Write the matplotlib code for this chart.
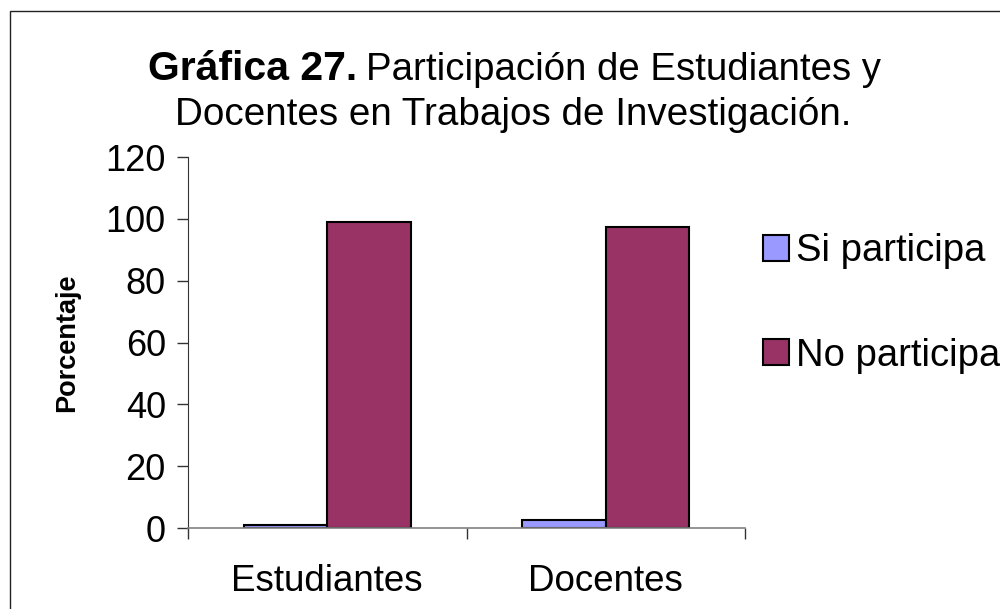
import matplotlib.pyplot as plt
import matplotlib.patches as mpatches
import numpy as np

plt.rcParams['font.family'] = ['Liberation Sans', 'DejaVu Sans']

categorias = ['Estudiantes', 'Docentes']
si_participa = [1.0, 2.7]
no_participa = [99.0, 97.3]
series = ['Si participa', 'No participa']
yticks = [0, 20, 40, 60, 80, 100, 120]

fig = plt.figure(figsize=(10, 6.09), dpi=100)
ax = fig.add_axes([0.188, 0.133, 0.557, 0.609])

x = np.arange(len(categorias))
w = 0.3
b1 = ax.bar(x - w / 2, si_participa, w, color='#9999FF', edgecolor='black', linewidth=1.5, label=series[0])
b2 = ax.bar(x + w / 2, no_participa, w, color='#993366', edgecolor='black', linewidth=1.5, label=series[1])

ax.set_xlim(-0.5, len(categorias) - 0.5)
ax.set_ylim(0, 120)
ax.set_yticks(yticks)
ax.set_xticks(x)
ax.set_xticklabels(categorias)
ax.set_xticks(np.arange(len(categorias) + 1) - 0.5, minor=True)
ax.tick_params(axis='x', which='major', length=0, pad=26, labelsize=26.5)
ax.tick_params(axis='x', which='minor', length=8, width=1, color='#333333', direction='out')
ax.tick_params(axis='y', length=8, width=1, color='#333333', direction='out', pad=8, labelsize=26)

for s in ['top', 'right']:
    ax.spines[s].set_visible(False)
ax.spines['left'].set_color('#333333')
ax.spines['bottom'].set_color('#808080')
ax.spines['bottom'].set_linewidth(1.2)

ax.set_ylabel('Porcentaje', fontsize=19.5, fontweight='bold', labelpad=18)

# titulo en dos partes (negrita + normal)
fig.text(0.357, 0.869, 'Gráfica 27.', fontsize=29.5, fontweight='bold', ha='right', va='baseline')
fig.text(0.366, 0.869, 'Participación de Estudiantes y', fontsize=27.6, ha='left', va='baseline')
fig.text(0.513, 0.794, 'Docentes en Trabajos de Investigación.', fontsize=27.8, ha='center', va='baseline')

fig.legend(handles=[b1, b2], loc='center left', bbox_to_anchor=(0.763, 0.502),
           frameon=False, fontsize=27.5, handlelength=0.67, handleheight=0.67,
           handletextpad=0.2, labelspacing=1.8, borderpad=0, borderaxespad=0)

# borde del grafico
fig.patches.append(mpatches.Rectangle((0.010, -0.5), 1.5, 0.5 + 0.982, transform=fig.transFigure,
                                      fill=False, edgecolor='#222222', linewidth=1))

fig.savefig('out.png', dpi=100)
